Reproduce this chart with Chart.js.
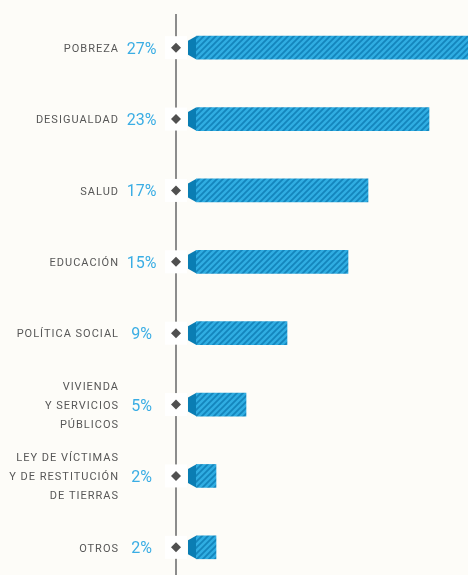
<!DOCTYPE html>
<html>
<head>
<meta charset="utf-8">
<script src="https://cdn.jsdelivr.net/npm/chart.js@4"></script>
<style>
  html, body { margin: 0; padding: 0; background: #fdfcf8; overflow: hidden; }
  #wrap { width: 468px; height: 575px; overflow: hidden; }
</style>
</head>
<body>
<div id="wrap"><canvas id="mycanvas" width="468" height="584"></canvas></div>
<script>
// data
var categories = [
  ['POBREZA'],
  ['DESIGUALDAD'],
  ['SALUD'],
  ['EDUCACIÓN'],
  ['POLÍTICA SOCIAL'],
  ['VIVIENDA', 'Y SERVICIOS', 'PÚBLICOS'],
  ['LEY DE VÍCTIMAS', 'Y DE RESTITUCIÓN', 'DE TIERRAS'],
  ['OTROS']
];
var values = [27.2, 23.3, 17.2, 15.2, 9.1, 5.0, 2.0, 2.0];
var pctLabels = ['27%', '23%', '17%', '15%', '9%', '5%', '2%', '2%'];

function stripes() {
  var c = document.createElement('canvas');
  c.width = 6; c.height = 6;
  var g = c.getContext('2d');
  g.fillStyle = '#30ade2';
  g.fillRect(0, 0, 6, 6);
  g.strokeStyle = '#1485bc';
  g.lineWidth = 1.8;
  g.beginPath();
  g.moveTo(-1, 7); g.lineTo(7, -1);
  g.moveTo(-4, 4); g.lineTo(4, -4);
  g.moveTo(2, 10); g.lineTo(10, 2);
  g.stroke();
  return g.createPattern(c, 'repeat');
}

var decor = {
  id: 'decor',
  beforeDatasetsDraw: function(chart) {
    var ctx = chart.ctx;
    var y = chart.scales.y;
    var lineX = 176;
    ctx.save();
    ctx.strokeStyle = '#8c8c8c';
    ctx.lineWidth = 2;
    ctx.beginPath();
    ctx.moveTo(lineX, 14);
    ctx.lineTo(lineX, chart.height);
    ctx.stroke();

    for (var i = 0; i < categories.length; i++) {
      var cy = y.getPixelForValue(i);
      // white box behind the marker
      ctx.fillStyle = '#ffffff';
      ctx.fillRect(165, cy - 11.5, 22, 23);
      // diamond
      ctx.fillStyle = '#505050';
      ctx.beginPath();
      ctx.moveTo(lineX, cy - 5);
      ctx.lineTo(lineX + 5, cy);
      ctx.lineTo(lineX, cy + 5);
      ctx.lineTo(lineX - 5, cy);
      ctx.closePath();
      ctx.fill();
      // bar cap
      ctx.fillStyle = '#0a7db3';
      ctx.beginPath();
      ctx.moveTo(188, cy - 7);
      ctx.lineTo(196, cy - 11.5);
      ctx.lineTo(196, cy + 11.5);
      ctx.lineTo(188, cy + 7);
      ctx.closePath();
      ctx.fill();

      // labels
      var lines = categories[i];
      ctx.font = '11px Roboto, "Noto Sans", sans-serif';
      ctx.letterSpacing = '1px';
      ctx.fillStyle = '#575757';
      ctx.textAlign = 'right';
      ctx.textBaseline = 'middle';
      var lh = 19;
      var start = cy + 1.5 - (lines.length - 1) * lh / 2;
      for (var k = 0; k < lines.length; k++) {
        ctx.fillText(lines[k], 119, start + k * lh);
      }
      ctx.letterSpacing = '0px';
      ctx.font = '16px Roboto, "Noto Sans", sans-serif';
      ctx.fillStyle = '#3aade4';
      ctx.textAlign = 'center';
      ctx.fillText(pctLabels[i], 141.5, cy + 2);
    }
    ctx.restore();
  }
};

var ctx = document.getElementById('mycanvas');
var barGraph = new Chart(ctx, {
  type: 'bar',
  data: {
    labels: categories.map(function(c) { return c.join(' '); }),
    datasets: [{
      data: values,
      backgroundColor: stripes(),
      borderWidth: 0,
      barThickness: 23
    }]
  },
  options: {
    indexAxis: 'y',
    responsive: false,
    animation: false,
    layout: { padding: { left: 196, right: 0, top: 12, bottom: 1 } },
    plugins: { legend: { display: false }, tooltip: { enabled: false } },
    scales: {
      x: { display: false, min: 0, max: 27.2 },
      y: { display: false, offset: true }
    }
  },
  plugins: [decor]
});
</script>
</body>
</html>
